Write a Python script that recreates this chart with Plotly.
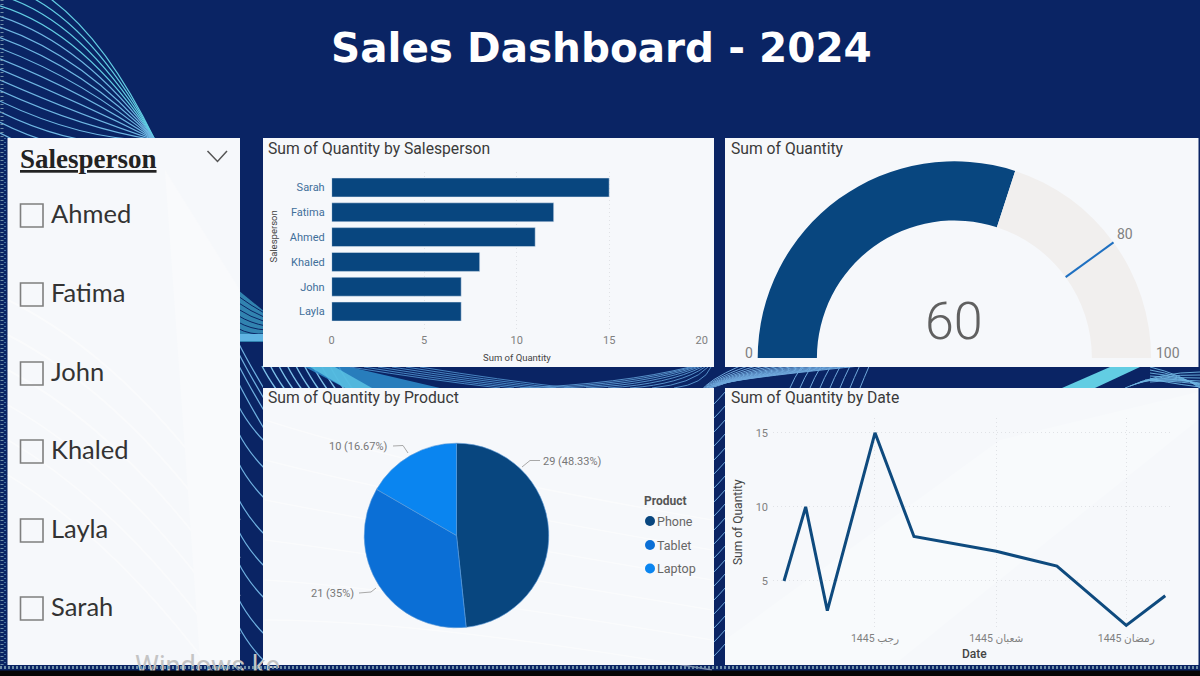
import math
import plotly.graph_objects as go

# ---- data ----
salespeople = ["Sarah", "Fatima", "Ahmed", "Khaled", "John", "Layla"]
person_qty = [15, 12, 11, 8, 7, 7]
slicer_names = ["Ahmed", "Fatima", "John", "Khaled", "Layla", "Sarah"]
products = ["Phone", "Tablet", "Laptop"]
product_qty = [29, 21, 10]
product_pct = ["48.33", "35", "16.67"]
dates = ["2024-01-01", "2024-01-06", "2024-01-11", "2024-01-22", "2024-01-31",
         "2024-02-19", "2024-03-04", "2024-03-20", "2024-03-29"]
date_qty = [5, 10, 3, 15, 8, 7, 6, 2, 4]
date_tickvals = ["2024-01-22", "2024-02-19", "2024-03-20"]
date_ticktext = ["رجب 1445", "شعبان 1445", "رمضان 1445"]
gauge_value = 60
gauge_target = 80
gauge_max = 100

# ---- style ----
W, H = 1200, 676
NAVY = "#0A2464"
PANEL = "#F6F8FB"
DARK = "#08467F"
TXT = "Roboto, 'Noto Sans', sans-serif"
LINE = "#6FB7E3"
TURQ = "#62CDE3"


def fx(a, b):
    return [a / W, b / W]


def fy(top, bottom):
    return [1 - bottom / H, 1 - top / H]


shapes = []


def page(**kw):
    kw.setdefault("xref", "x")
    kw.setdefault("yref", "y")
    kw.setdefault("layer", "below")
    shapes.append(kw)


def curve(x0, y0, cx, cy, x1, y1, color=LINE, width=1.1, opacity=1.0):
    page(type="path", path=f"M{x0},{y0} Q{cx},{cy} {x1},{y1}",
         line=dict(color=color, width=width), opacity=opacity)


def rect(x0, y0, x1, y1, fill, **kw):
    page(type="rect", x0=x0, y0=y0, x1=x1, y1=y1, fillcolor=fill, line=dict(width=0), **kw)


# background
rect(0, 0, W, H, NAVY)

# top-left fan
for i in range(16):
    y0 = -26 + i * 10.6
    curve(0, y0, 85, y0 + 22 + i * 1.5, 155, 140, color=LINE if i > 3 else TURQ, width=1.2)
# left-gap wedge and lines
page(type="path", path="M238,290 L265,312 L265,342 L238,342 Z", fillcolor="#3FA3C9", line=dict(width=0), opacity=.75)
for i in range(7):
    curve(238, 296 + i * 6.5, 250, 305 + i * 6, 266, 314 + i * 4, color=NAVY, width=1)
rect(238, 334, 265, 341, "#5FB4E2")
for y in [342, 352, 364, 382, 405, 432, 462, 498, 530, 562, 598, 625]:
    curve(238, y, 248, y + 20, 266, y + 38 if y > 400 else y + 50, color="#6FB0E0", width=1.2)

# gap under the bar panel
rect(263, 367, 714, 388, NAVY)
for i in range(10):
    x = 262 + i * 8.5
    curve(x, 366, x + 5, 376, x + 14, 389, color="#7FC2EA", width=1.4)
page(type="path", path="M305,367 L350,367 L440,388 L345,388 Z", fillcolor="#2E8DCB", line=dict(width=0), opacity=.85)
page(type="path", path="M310,367 L335,367 L372,388 L345,388 Z", fillcolor="#5CC5E5", line=dict(width=0), opacity=.8)
for i in range(6):
    curve(350 + i * 14, 367, 430 + i * 14, 380, 500 + i * 14, 388, color="#4E8FCB", width=.9)
for i in range(8):
    curve(520 + i * 22, 388, 620 + i * 12, 384, 690 + i * 3, 367, color="#5E9BD2", width=.9)

# gap between the two chart columns and beneath the gauge
for i in range(16):
    curve(700 + i * 1.5, 392 - i * .5, 708 + i, 380, 740 + i * 8, 366, color="#6FA8DC", width=1)
for i in range(8):
    x = 790 + i * 10
    curve(x, 388, x + 4, 378, x + 4 + i * .6 + (8 - i), 366, color="#6FA8DC", width=1)
for y in range(395, 660, 14):
    curve(713, y + 10, 718, y + 5, 726, y - 4, color="#6FA8DC", width=1)
page(type="path", path="M1062,388 L1110,367 L1140,367 L1095,388 Z", fillcolor="#62CDE3", line=dict(width=0))
for i in range(6):
    curve(1125 + i * 5, 388 - i * 2, 1160, 372 + i * 2, 1200, 372 + i * 3, color="#6FB7E3", width=.9)
    curve(1150, 367 + i * 3, 1180, 374 + i, 1200, 388 - i, color="#6FB7E3", width=.9)

# left edge dots
page(type="line", x0=2, y0=0, x1=2, y1=668, line=dict(color="#6F8FA8", width=3, dash="1px,3px"))
page(type="line", x0=5, y0=138, x1=5, y1=668, line=dict(color="#3F6CA0", width=2, dash="1px,3px"))

# panels
PANELS = [(7.5, 138, 240, 665), (263, 138, 714, 367), (725, 138, 1198.5, 367),
          (263, 388, 714, 665), (725, 388, 1198.5, 665)]
for p in PANELS:
    rect(*p, PANEL)

# faint sweep on the slicer and panels
for i in range(6):
    curve(8, 300 + i * 35, 130, 360 + i * 38, 240, 520 + i * 38, color="#FFFFFF", width=2, opacity=.45)
page(type="path", path="M165,170 L240,290 L240,660 L200,660 Z", fillcolor="#F9FAFC", line=dict(width=0))
page(type="path", path="M725,640 L1000,440 L1198,392 L1198,420 L900,660 L725,660 Z", fillcolor="#F8FAFC", line=dict(width=0))
for i in range(6):
    curve(265, 420 + i * 40, 420, 470 + i * 30, 712, 520 + i * 30, color="#FFFFFF", width=1.5, opacity=.45)

# slicer check boxes and chevron
ROWS = [214, 293, 372, 450, 529, 607]
for y in ROWS:
    page(type="rect", x0=20.5, y0=y - 10, x1=43, y1=y + 13, line=dict(color="#7F7F7F", width=1.6))
page(type="path", path="M207.5,151 L217.5,161.5 L227,151", line=dict(color="#555555", width=1.5))

# gauge target line, computed from the value
CX, CY, R_OUT, R_IN = 954.4, 358, 196.7, 137.5
ang = math.pi * (1 - gauge_target / gauge_max)
page(type="line", x0=CX + R_IN * math.cos(ang), y0=CY - R_IN * math.sin(ang),
     x1=CX + R_OUT * math.cos(ang), y1=CY - R_OUT * math.sin(ang),
     line=dict(color="#1F70C1", width=2), layer="above")

# pie leader lines
for path in ["M522,467 L530,460.5 L540,460.5", "M393,446 L403,445.5 L408,453", "M359,593 L371,592 L376,588"]:
    page(type="path", path=path, line=dict(color="#A8A8A8", width=1), layer="above")

# bottom strip
page(type="line", x0=0, y0=667.5, x1=W, y1=667.5, line=dict(color="#6F8FA8", width=3, dash="2px,2px"), layer="above")
page(type="rect", x0=0, y0=670.5, x1=W, y1=H, fillcolor="#050505", line=dict(width=0), layer="above")

annots = []
PAD = {"left": -2, "right": 2, "center": 0}


def note(x, y, text, size=12, color="#666666", anchor="left", family=TXT, **kw):
    annots.append(dict(xref="x", yref="y", x=x + PAD[anchor], y=y, text=text, showarrow=False, xanchor=anchor,
                       yanchor="middle", font=dict(size=size, color=color, family=family, **kw)))


note(601, 48, "Sales Dashboard - 2024", 40.5, "#FFFFFF", "center",
     "'Comic Sans MS', 'DejaVu Sans', sans-serif", weight="bold")
note(20, 159, "<u>Salesperson</u>", 27, "#222222", family="'Liberation Serif', serif", weight="bold")
for name, y in zip(slicer_names, ROWS):
    note(51, y - 1, name, 25.5, "#333333", family="Lato, sans-serif")
for x, y, t in [(268, 148, "Sum of Quantity by Salesperson"), (730.5, 148, "Sum of Quantity"),
                (268, 397.5, "Sum of Quantity by Product"), (730.5, 397.5, "Sum of Quantity by Date")]:
    note(x, y, t, 15.7, "#3A3A3A")
annots.append(dict(xref="x", yref="y", x=272.5, y=237, text="Salesperson", textangle=-90, showarrow=False,
                   font=dict(size=9.5, color="#444444", family=TXT)))
note(517, 357.5, "Sum of Quantity", 9.5, "#444444", "center")
annots.append(dict(xref="x", yref="y", x=738, y=522, text="Sum of Quantity", textangle=-90, showarrow=False,
                   font=dict(size=12, color="#444444", family=TXT)))
note(974, 654, "Date", 12, "#444444", "center", weight=500)
# gauge labels
note(954, 321, str(gauge_value), 52, "#606060", "center", weight=300)
note(748.5, 353, "0", 14, "#808080", "center")
note(1168, 352.5, str(gauge_max), 14, "#808080", "center")
note(1125, 234, str(gauge_target), 14, "#808080", "center")
# pie labels
note(543, 461, f"{product_qty[0]} ({product_pct[0]}%)", 11, "#777777")
note(388, 446, f"{product_qty[2]} ({product_pct[2]}%)", 11, "#777777", "right")
note(354, 593, f"{product_qty[1]} ({product_pct[1]}%)", 11, "#777777", "right")
# legend text
note(644, 500.5, "<b>Product</b>", 12, "#555555")
LEG = [521, 545, 568.5]
for name, y in zip(products, LEG):
    note(656.5, y, name, 12.5, "#666666")

PIE_COLORS = ["#08467F", "#0B6FD6", "#0A85F0"]

fig = go.Figure()

# page-level layer (legend dots and clipped watermark)
fig.add_trace(go.Scatter(x=[650, 650, 650], y=LEG, mode="markers", xaxis="x", yaxis="y", hoverinfo="skip",
                         marker=dict(size=10, color=PIE_COLORS), showlegend=False))
fig.add_trace(go.Scatter(x=[135], y=[668], mode="text", text=["Windows ke"], textposition="middle right",
                         xaxis="x", yaxis="y", cliponaxis=False, hoverinfo="skip", showlegend=False,
                         textfont=dict(size=27, color="#C4C4C4", family=TXT)))

# bars
fig.add_trace(go.Bar(x=person_qty, y=salespeople, orientation="h", marker=dict(color=DARK),
                     xaxis="x2", yaxis="y2", showlegend=False))
# line
fig.add_trace(go.Scatter(x=dates, y=date_qty, mode="lines", line=dict(color="#0E4A7E", width=3),
                         xaxis="x3", yaxis="y3", showlegend=False))
# gauge
fig.add_trace(go.Pie(values=[gauge_value, gauge_max - gauge_value, gauge_max], sort=False, direction="clockwise",
                     rotation=270, hole=R_IN / R_OUT, textinfo="none", hoverinfo="skip", showlegend=False,
                     marker=dict(colors=[DARK, "#F1EFEE", "rgba(0,0,0,0)"], line=dict(width=0)),
                     domain=dict(x=fx(CX - R_OUT, CX + R_OUT), y=fy(CY - R_OUT, CY + R_OUT))))
# product pie
fig.add_trace(go.Pie(labels=products, values=product_qty, sort=False, direction="clockwise", rotation=0,
                     textinfo="none", showlegend=False,
                     marker=dict(colors=PIE_COLORS, line=dict(color="#5C9BD8", width=.6)),
                     domain=dict(x=fx(456.5 - 92.3, 456.5 + 92.3), y=fy(535.5 - 92.3, 535.5 + 92.3))))

GRID = "#E0E2E6"
fig.update_layout(
    width=W, height=H, margin=dict(l=0, r=0, t=0, b=0, autoexpand=False), autosize=False,
    paper_bgcolor=NAVY, plot_bgcolor="rgba(0,0,0,0)", bargap=.234, showlegend=False,
    shapes=shapes, annotations=annots,
    xaxis=dict(domain=[0, 1], range=[0, W], visible=False, fixedrange=True),
    yaxis=dict(domain=[0, 1], range=[H, 0], visible=False, fixedrange=True),
    xaxis2=dict(domain=fx(331.7, 701.7), range=[0, 20], anchor="y2", tickvals=[0, 5, 10, 15, 20],
                showgrid=True, gridcolor=GRID, griddash="1px,3px", zeroline=False, ticks="",
                tickfont=dict(size=11, color="#808080", family=TXT)),
    yaxis2=dict(domain=fy(172, 332), type="category", categoryorder="array", categoryarray=salespeople,
                range=[5.825, -0.625], anchor="x2", showgrid=False, zeroline=False, ticks="",
                ticklabelstandoff=6, tickfont=dict(size=11, color="#3F6F9A", family=TXT)),
    xaxis3=dict(domain=fx(773, 1173), type="date", range=["2023-12-29 11:00", "2024-03-30 19:00"], anchor="y3",
                tickmode="array", tickvals=date_tickvals, ticktext=date_ticktext, showgrid=True,
                gridcolor=GRID, griddash="1px,3px", zeroline=False, ticks="",
                tickfont=dict(size=10.5, color="#808080", family="Roboto, 'DejaVu Sans', sans-serif")),
    yaxis3=dict(domain=fy(418, 630), range=[1.69, 16.0], anchor="x3", tickvals=[5, 10, 15], showgrid=True,
                gridcolor=GRID, griddash="1px,3px", zeroline=False, ticks="", ticklabelstandoff=4,
                tickfont=dict(size=11, color="#808080", family=TXT)),
)
fig.write_html("out.html", config=dict(displayModeBar=False),
               post_script="document.body.style.margin='0';document.documentElement.style.overflow='hidden';")
